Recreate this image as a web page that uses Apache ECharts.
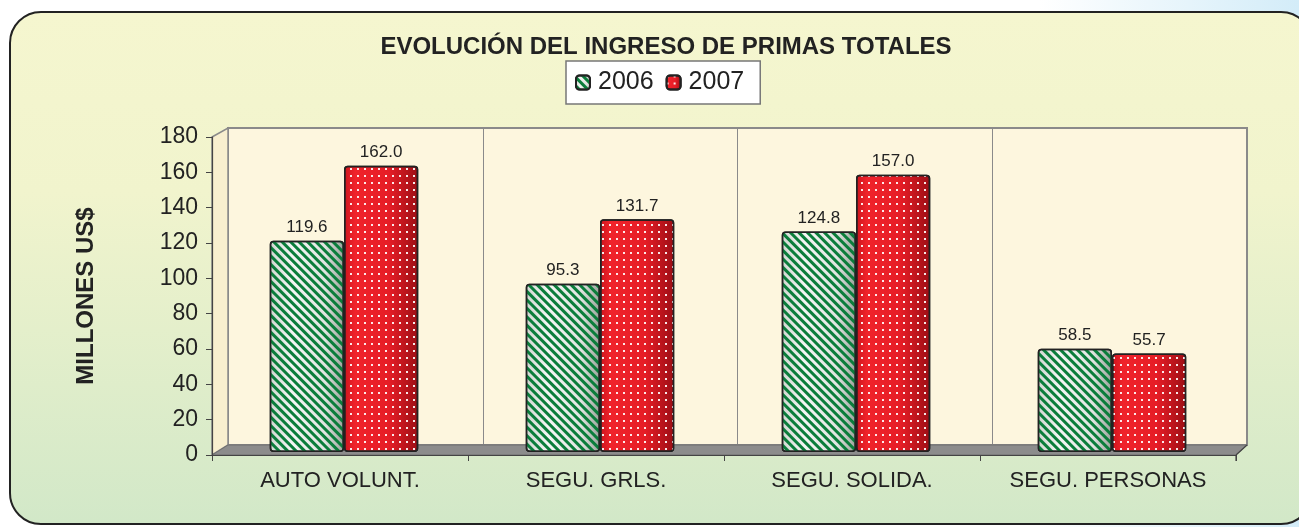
<!DOCTYPE html>
<html>
<head>
<meta charset="utf-8">
<script src="https://cdn.jsdelivr.net/npm/echarts@6/dist/echarts.min.js"></script>
<style>
    html, body {
        margin: 0;
        width: 1299px;
        height: 527px;
        overflow: hidden;
        background: linear-gradient(to right, #ffffff 80%, #d3ecf8 100%);
    }
    #frame {
        position: absolute;
        left: 9px;
        top: 11px;
        width: 1300px;
        height: 510px;
        border: 2.5px solid #222;
        border-radius: 32px;
        background: linear-gradient(to bottom, #f5f6cf 0%, #f1f4cd 35%, #d2e8c8 100%);
    }
    #chart {
        position: absolute;
        left: 0;
        top: 0;
        width: 1299px;
        height: 527px;
    }
</style>
</head>
<body>
<div id="frame"></div>
<div id="chart"></div>
<script>
// datos del grafico
const categories = ['AUTO VOLUNT.', 'SEGU. GRLS.', 'SEGU. SOLIDA.', 'SEGU. PERSONAS']
const seriesNames = ['2006', '2007']
const values2006 = [119.6, 95.3, 124.8, 58.5]
const values2007 = [162.0, 131.7, 157.0, 55.7]
const yTicks = { min: 0, max: 180, interval: 20 }

// geometria del "3D": pared del fondo desplazada
const front = { left: 212, top: 137, width: 1024, height: 318 }
const depth = { dx: 16, dy: 9 }
const back = {
    left: front.left + depth.dx,
    top: front.top - depth.dy,
    width: front.width - 5,
    height: front.height - 1
}
// las barras estan a media profundidad
const mid = { left: front.left + 4, top: front.top - 3, width: front.width, height: front.height }

const myChart = echarts.init(document.getElementById('chart'), null, { renderer: 'canvas' })

const fontFamily = '"Liberation Sans", Arial, sans-serif'

const greenStyle = {
    color: new echarts.graphic.LinearGradient(0, 0, 1, 0, [
        { offset: 0, color: '#d0d6d0' },
        { offset: 0.3, color: '#f4f6f4' },
        { offset: 0.75, color: '#e0e4e0' },
        { offset: 1, color: '#9aa09a' }
    ]),
    borderColor: '#222',
    borderWidth: 1.5,
    borderRadius: 3,
    decal: {
        symbol: 'rect',
        color: '#0b7d3b',
        dashArrayX: [1, 0],
        dashArrayY: [2.5, 2.5],
        rotation: Math.PI / 4
    }
}

const redStyle = {
    color: new echarts.graphic.LinearGradient(0, 0, 1, 0, [
        { offset: 0, color: '#cc151d' },
        { offset: 0.15, color: '#f0232b' },
        { offset: 0.6, color: '#e61d26' },
        { offset: 1, color: '#9c0e15' }
    ]),
    borderColor: '#222',
    borderWidth: 1.5,
    borderRadius: 3,
    decal: {
        symbol: 'rect',
        color: 'rgba(255,255,255,0.9)',
        symbolSize: 1,
        dashArrayX: [[2, 5]],
        dashArrayY: [2, 5]
    }
}

const labelStyle = {
    show: true,
    position: 'top',
    distance: 5,
    fontSize: 17,
    color: '#222',
    fontFamily,
    formatter: p => p.value.toFixed(1)
}

const fl = front.left, ft = front.top, fb = front.top + front.height, fr = front.left + front.width
const bl = back.left, bt = back.top, bb = back.top + back.height, br = back.left + back.width

const option = {
    animation: false,
    textStyle: { fontFamily },
    title: {
        text: 'EVOLUCIÓN DEL INGRESO DE PRIMAS TOTALES',
        left: 661,
        top: 30,
        textAlign: 'center',
        textStyle: {
            fontSize: 24,
            fontWeight: 'bold',
            color: '#222',
            fontFamily
        }
    },
    legend: {
        data: seriesNames,
        left: 566,
        top: 61,
        padding: [9, 16, 9, 9],
        itemWidth: 14,
        itemHeight: 14,
        itemGap: 12,
        backgroundColor: '#fff',
        borderColor: '#777',
        borderWidth: 1.5,
        borderRadius: 0,
        textStyle: {
            fontSize: 25,
            color: '#222',
            padding: [0, 0, 0, 3]
        }
    },
    grid: [
        { left: front.left, top: front.top, width: front.width, height: front.height },
        {
            left: back.left, top: back.top, width: back.width, height: back.height,
            show: true,
            backgroundColor: '#fdf6de',
            borderColor: '#8a8a8a',
            borderWidth: 2
        },
        { left: mid.left, top: mid.top, width: mid.width, height: mid.height }
    ],
    xAxis: [
        {
            type: 'category',
            data: categories,
            gridIndex: 0,
            z: 5,
            axisLine: { lineStyle: { color: '#444', width: 1.2 } },
            axisTick: { show: true, length: 6, lineStyle: { color: '#444' } },
            axisLabel: { fontSize: 22, color: '#222', margin: 15 }
        },
        {
            type: 'category',
            data: categories,
            gridIndex: 1,
            axisLine: { show: false },
            axisTick: { show: false },
            axisLabel: { show: false },
            splitLine: { show: true, lineStyle: { color: '#8a8a8a', width: 1 } }
        },
        {
            type: 'category',
            data: categories,
            gridIndex: 2,
            show: false
        }
    ],
    yAxis: [
        {
            type: 'value',
            gridIndex: 0,
            min: yTicks.min,
            max: yTicks.max,
            interval: yTicks.interval,
            z: 5,
            name: 'MILLONES US$',
            nameLocation: 'middle',
            nameRotate: 90,
            nameGap: 114,
            nameTextStyle: { fontSize: 24, fontWeight: 'bold', color: '#222' },
            axisLine: { show: true, lineStyle: { color: '#444', width: 1.2 } },
            axisTick: { show: true, length: 6, lineStyle: { color: '#444' } },
            axisLabel: { fontSize: 23, color: '#222', margin: 14 },
            splitLine: { show: false }
        },
        {
            type: 'value',
            gridIndex: 1,
            min: yTicks.min,
            max: yTicks.max,
            show: false,
            splitLine: { show: false }
        },
        {
            type: 'value',
            gridIndex: 2,
            min: yTicks.min,
            max: yTicks.max,
            show: false,
            splitLine: { show: false }
        }
    ],
    graphic: [
        {
            // pared izquierda
            type: 'polygon',
            z: 0,
            shape: { points: [[fl, ft], [bl, bt], [bl, bb], [fl, fb]] },
            style: { fill: '#f8efcf', stroke: '#8a8a8a', lineWidth: 1.5 }
        },
        {
            // piso
            type: 'polygon',
            z: 1,
            shape: { points: [[fl, fb], [bl, bb], [br, bb], [fr, fb]] },
            style: { fill: '#8c8c8c', stroke: '#6e6e6e', lineWidth: 1 }
        },
        {
            type: 'line',
            z: 6,
            shape: { x1: fr, y1: fb, x2: br, y2: bb },
            style: { stroke: '#444', lineWidth: 1.2 }
        },
        {
            type: 'line',
            z: 6,
            shape: { x1: fr, y1: fb, x2: fr, y2: fb + 6 },
            style: { stroke: '#444', lineWidth: 1.2 }
        }
    ],
    series: [
        {
            name: seriesNames[0],
            type: 'bar',
            xAxisIndex: 2,
            yAxisIndex: 2,
            z: 3,
            barGap: '0%',
            barCategoryGap: '42%',
            itemStyle: greenStyle,
            label: labelStyle,
            data: values2006
        },
        {
            name: seriesNames[1],
            type: 'bar',
            xAxisIndex: 2,
            yAxisIndex: 2,
            z: 3,
            itemStyle: redStyle,
            label: labelStyle,
            data: values2007
        }
    ]
}

myChart.setOption(option)
</script>
</body>
</html>
